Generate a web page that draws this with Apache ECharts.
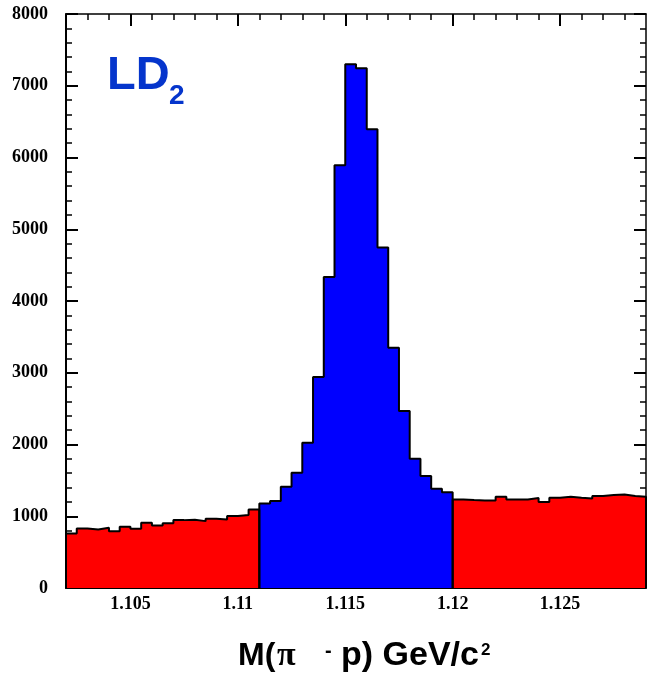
<!DOCTYPE html>
<html>
<head>
<meta charset="utf-8">
<script src="https://cdn.jsdelivr.net/npm/echarts@6/dist/echarts.min.js"></script>
<style>html,body{margin:0;padding:0;background:#fff}#c{width:647px;height:680px}</style>
</head>
<body>
<div id="c"></div>
<script>
// ---- data ----
var binWidth = 0.0005;
var sideLeftStart = 1.102;
var peakStart = 1.111;
var sideRightStart = 1.120;
var sideLeft = [760,830,816,840,792,853,825,909,872,904,946,951,932,965,955,1002,1016,1095];
var peak = [1178,1211,1411,1606,2025,2940,4335,5893,7301,7245,6395,4745,3350,2466,1802,1560,1383,1336];
var sideRight = [1234,1225,1220,1220,1272,1234,1234,1253,1197,1258,1272,1258,1248,1281,1295,1304,1281,1272];
var xMajor = [1.105, 1.11, 1.115, 1.12, 1.125];
var xMinor = [1.103,1.104,1.106,1.107,1.108,1.109,1.111,1.112,1.113,1.114,1.116,1.117,1.118,1.119,1.121,1.122,1.123,1.124,1.126,1.127,1.128];
var xMin = 1.102, xMax = 1.129;
var yMin = 0, yMax = 8000, yStep = 1000;

function r(v){ return Math.round(v*1e6)/1e6; }
function histPoints(start, vals){
  var pts = [[r(start), 0]];
  for (var i = 0; i < vals.length; i++) pts.push([r(start + i*binWidth), vals[i]]);
  var end = r(start + vals.length*binWidth);
  pts.push([end, vals[vals.length-1]]);
  pts.push([end, 0]);
  return pts;
}

var chart = echarts.init(document.getElementById('c'), null, {renderer:'canvas'});
var labelFont = {fontFamily:'Liberation Serif', fontWeight:'bold', fontSize:18, color:'#000'};
function xAx(pos, vals, len, lineW, showLabel, showLine){
  return {
    type:'value', position:pos, min:xMin, max:xMax,
    axisLine:{show:showLine, onZero:false, lineStyle:{color:'#000', width:lineW}},
    axisTick:{show:true, inside:true, length:len, customValues:vals, lineStyle:{color:'#000', width: len>8?2:1.5}},
    axisLabel:Object.assign({show:showLabel, customValues:vals, margin:7, formatter:function(v){return String(v);}}, labelFont),
    splitLine:{show:false}
  };
}
var option = {
  animation:false,
  grid:{left:66, right:1, top:14, bottom:92, containLabel:false},
  xAxis:[
    xAx('bottom', xMajor, 12, 2, true, true),
    xAx('bottom', xMinor, 6, 2, false, false),
    xAx('top', xMajor, 12, 1.5, false, true),
    xAx('top', xMinor, 6, 1.5, false, false)
  ],
  yAxis:[
    {type:'value', position:'left', min:yMin, max:yMax, interval:yStep,
     axisLine:{show:true, onZero:false, lineStyle:{color:'#000', width:2}},
     axisTick:{show:true, inside:true, length:12, lineStyle:{color:'#000', width:2}},
     minorTick:{show:true, splitNumber:5, length:6, lineStyle:{color:'#000', width:1.5}},
     axisLabel:Object.assign({margin:18, formatter:function(v){return String(v);}}, labelFont),
     splitLine:{show:false}, minorSplitLine:{show:false}},
    {type:'value', position:'right', min:yMin, max:yMax, interval:yStep,
     axisLine:{show:true, onZero:false, lineStyle:{color:'#000', width:1.5}},
     axisTick:{show:true, inside:true, length:12, lineStyle:{color:'#000', width:2}},
     minorTick:{show:true, splitNumber:5, length:6, lineStyle:{color:'#000', width:1.5}},
     axisLabel:{show:false},
     splitLine:{show:false}, minorSplitLine:{show:false}}
  ],
  series:[
    {type:'line', step:'end', data:histPoints(sideLeftStart, sideLeft), symbol:'none',
     lineStyle:{color:'#000', width:2}, areaStyle:{color:'#ff0000', opacity:1}, z:2},
    {type:'line', step:'end', data:histPoints(peakStart, peak), symbol:'none',
     lineStyle:{color:'#000', width:2}, areaStyle:{color:'#0000ff', opacity:1}, z:2},
    {type:'line', step:'end', data:histPoints(sideRightStart, sideRight), symbol:'none',
     lineStyle:{color:'#000', width:2}, areaStyle:{color:'#ff0000', opacity:1}, z:2}
  ],
  graphic:[
    {type:'text', left:107, top:53, z:10,
     style:{text:'LD', fontFamily:'Liberation Sans', fontWeight:'bold', fontSize:47, fill:'#0535cc'}},
    {type:'text', left:169, top:82, z:10,
     style:{text:'2', fontFamily:'Liberation Sans', fontWeight:'bold', fontSize:28, fill:'#0535cc'}},
    {type:'text', x:238, y:656, z:10,
     style:{text:'M(', fontFamily:'Liberation Sans', fontWeight:'bold', fontSize:32, fill:'#000', align:'left', verticalAlign:'middle'}},
    {type:'text', x:277, y:656, z:10,
     style:{text:'π', fontFamily:'Liberation Serif', fontWeight:'bold', fontSize:34, fill:'#000', align:'left', verticalAlign:'middle'}},
    {type:'text', x:325, y:651, z:10,
     style:{text:'-', fontFamily:'Liberation Sans', fontWeight:'bold', fontSize:20, fill:'#000', align:'left', verticalAlign:'middle'}},
    {type:'text', x:341, y:656, z:10,
     style:{text:'p) GeV/c', fontFamily:'Liberation Sans', fontWeight:'bold', fontSize:34, fill:'#000', align:'left', verticalAlign:'middle'}},
    {type:'text', x:481, y:650, z:10,
     style:{text:'2', fontFamily:'Liberation Sans', fontWeight:'bold', fontSize:17, fill:'#000', align:'left', verticalAlign:'middle'}}
  ]
};
chart.setOption(option);
</script>
</body>
</html>
